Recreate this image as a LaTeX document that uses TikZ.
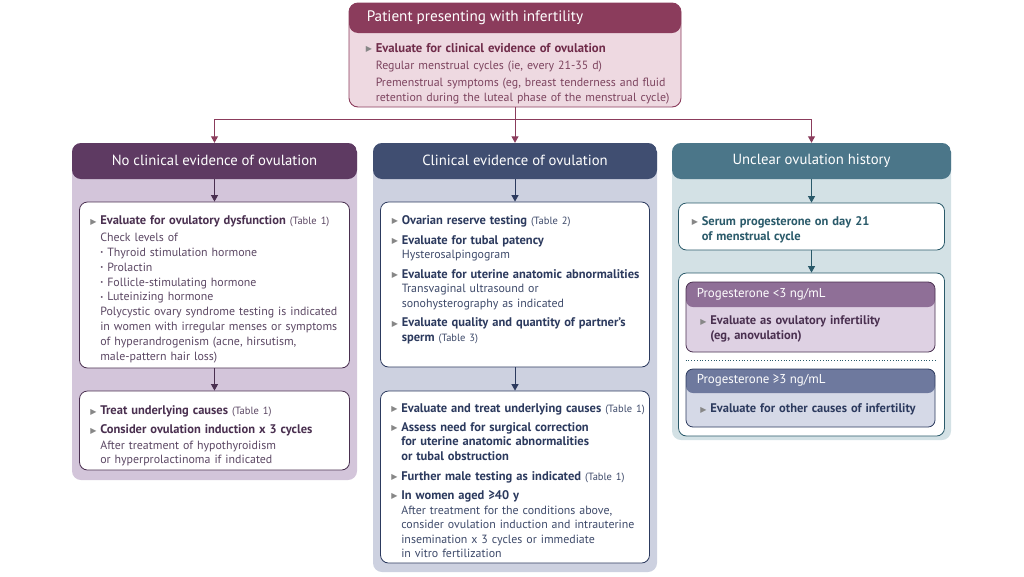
\documentclass[tikz,border=0pt]{standalone}
\usepackage{fontspec}
\setmainfont{PT Sans}
\newfontfamily\symfont{DejaVu Sans}
\usetikzlibrary{arrows.meta,positioning,calc}
\definecolor{topHead}{RGB}{139,60,92}
\definecolor{topBody}{RGB}{238,217,225}
\definecolor{topDark}{RGB}{112,44,74}
\definecolor{topText}{RGB}{125,68,95}
\definecolor{noHead}{RGB}{94,58,98}
\definecolor{noBody}{RGB}{211,197,218}
\definecolor{noDark}{RGB}{74,48,80}
\definecolor{noText}{RGB}{92,72,100}
\definecolor{yesHead}{RGB}{64,78,113}
\definecolor{yesBody}{RGB}{205,209,224}
\definecolor{yesDark}{RGB}{44,58,94}
\definecolor{yesText}{RGB}{62,74,106}
\definecolor{unHead}{RGB}{75,118,137}
\definecolor{unBody}{RGB}{211,225,229}
\definecolor{unDark}{RGB}{42,90,106}
\definecolor{lowHead}{RGB}{143,111,151}
\definecolor{lowBody}{RGB}{222,209,227}
\definecolor{highHead}{RGB}{110,121,158}
\definecolor{highBody}{RGB}{213,217,231}
\definecolor{triGray}{RGB}{135,135,135}
\newcommand{\tri}{{\symfont\fontsize{8}{8}\selectfont\color{triGray}\raisebox{0.5pt}{▶}}}
\newcommand{\itm}[1][0pt]{\par\vspace{#1}\leftskip=10pt\noindent\llap{\makebox[10pt][l]{\tri}}}
\newcommand{\sbul}{\makebox[7pt][l]{\raisebox{.25ex}{\scalebox{.55}{\textbullet}}}}
\newcommand{\tbl}[1]{{\fontsize{10.5}{12}\selectfont\mdseries(#1)}}
\newcommand{\hd}[1]{{\fontsize{12.5}{14.6}\selectfont\bfseries\color{hdcol}#1}}
\tikzstyle{panel}=[rectangle, rounded corners=9pt, inner sep=0pt]
\tikzstyle{card}=[rectangle, rounded corners=8pt, fill=white, line width=.8pt, inner sep=0pt]
\tikzstyle{body}=[inner sep=0pt, align=left, anchor=north west, text width=330pt, font=\fontsize{11.9}{14.6}\selectfont]
\tikzstyle{headtxt}=[text=white, inner sep=0pt, font=\fontsize{14.7}{17}\selectfont]
\tikzstyle{subtxt}=[text=white, inner sep=0pt, anchor=west, font=\fontsize{12.9}{15}\selectfont]
\tikzset{headed/.style n args={3}{fill=#1, path picture={\fill[#2] (path picture bounding box.north west) rectangle ([yshift=-#3]path picture bounding box.north east);}}}
\tikzset{flow/.style={-{Triangle[length=6.5pt,width=7pt]}, line width=1pt}}
\begin{document}
\begin{tikzpicture}[x=1pt,y=-1pt]
  \useasboundingbox (0,0) rectangle (1024,576);

  %% Patient box
  \draw (515,55) node[panel,headed={topBody}{topHead}{30pt},draw=topHead,line width=.9pt,minimum width=332pt,minimum height=104pt] (top) {};
  \node[headtxt,anchor=west,font=\fontsize{15.2}{17}\selectfont] (topHd) at ([xshift=18pt,yshift=-15pt]top.north west) {Patient presenting with infertility};
  \node[body,text=topText,font=\fontsize{11.9}{14.2}\selectfont] (topTxt) at ([xshift=17pt,yshift=-35.5pt]top.north west) {\colorlet{hdcol}{topDark}%
    \itm{\fontsize{12.7}{14.2}\selectfont\bfseries\color{topDark}Evaluate for clinical evidence of ovulation}\\[3pt]
    Regular menstrual cycles (ie, every 21-35 d)\\[3pt]
    Premenstrual symptoms (eg, breast tenderness and fluid\\
    retention during the luteal phase of the menstrual cycle)\par};

  %% Columns
  \draw (214.5,311.5) node[panel,headed={noBody}{noHead}{36pt},minimum width=285pt,minimum height=337pt] (colNo) {};
  \draw (515,357.5) node[panel,headed={yesBody}{yesHead}{36pt},minimum width=284pt,minimum height=429pt] (colYes) {};
  \draw (811.5,291.5) node[panel,headed={unBody}{unHead}{36pt},minimum width=279pt,minimum height=297pt] (colUn) {};
  \node[headtxt] (hdNo) at ([yshift=-18pt]colNo.north) {No clinical evidence of ovulation};
  \node[headtxt] (hdYes) at ([yshift=-18pt]colYes.north) {Clinical evidence of ovulation};
  \node[headtxt] (hdUn) at ([yshift=-18pt]colUn.north) {Unclear ovulation history};

  %% Split
  \coordinate (split) at ($(top.south)+(0,12)$);
  \draw[line width=1pt,topHead] (top.south) -- (split);
  \draw[flow,topHead] (split) -| (colNo.north);
  \draw[flow,topHead] (split) -- (colYes.north);
  \draw[flow,topHead] (split) -| (colUn.north);

  %% No clinical evidence
  \draw (214.5,285) node[card,draw=noDark,minimum width=270pt,minimum height=166pt] (evalNo) {};
  \draw (214.5,430.5) node[card,draw=noDark,minimum width=270pt,minimum height=79pt] (treatNo) {};
  \draw[flow,noDark] ([yshift=-36pt]colNo.north) -- (evalNo.north);
  \draw[flow,noDark] (evalNo.south) -- (treatNo.north);
  \node[body,text=noText,font=\fontsize{11.9}{14.85}\selectfont] (evalNoTxt) at ([xshift=11pt,yshift=-8pt]evalNo.north west) {\colorlet{hdcol}{noDark}%
    \itm\hd{Evaluate for ovulatory dysfunction} \tbl{Table 1}\\[2pt]
    Check levels of\\
    \sbul Thyroid stimulation hormone\\
    \sbul Prolactin\\
    \sbul Follicle-stimulating hormone\\
    \sbul Luteinizing hormone\\
    Polycystic ovary syndrome testing is indicated\\
    in women with irregular menses or symptoms\\
    of hyperandrogenism (acne, hirsutism,\\
    male-pattern hair loss)\par};
  \node[body,text=noText] (treatNoTxt) at ([xshift=11pt,yshift=-9.5pt]treatNo.north west) {\colorlet{hdcol}{noDark}%
    \itm\hd{Treat underlying causes} \tbl{Table 1}
    \itm[4pt]\hd{Consider ovulation induction x 3 cycles}\\[1pt]
    After treatment of hypothyroidism\\
    or hyperprolactinoma if indicated\par};

  %% Clinical evidence
  \draw (515,284.5) node[card,draw=yesDark,minimum width=269pt,minimum height=165pt] (evalYes) {};
  \draw (515,477) node[card,draw=yesDark,minimum width=269pt,minimum height=172pt] (treatYes) {};
  \draw[flow,yesDark] ([yshift=-36pt]colYes.north) -- (evalYes.north);
  \draw[flow,yesDark] (evalYes.south) -- (treatYes.north);
  \node[body,text=yesText] (evalYesTxt) at ([xshift=11.5pt,yshift=-8pt]evalYes.north west) {\colorlet{hdcol}{yesDark}%
    \itm\hd{Ovarian reserve testing} \tbl{Table 2}
    \itm[5pt]\hd{Evaluate for tubal patency}\\
    Hysterosalpingogram
    \itm[5pt]\hd{Evaluate for uterine anatomic abnormalities}\\
    Transvaginal ultrasound or\\
    sonohysterography as indicated
    \itm[4.5pt]\hd{Evaluate quality and quantity of partner’s}\\
    \hd{sperm} \tbl{Table 3}\par};
  \node[body,text=yesText] (treatYesTxt) at ([xshift=11pt,yshift=-7pt]treatYes.north west) {\colorlet{hdcol}{yesDark}%
    \itm\hd{Evaluate and treat underlying causes} \tbl{Table 1}
    \itm[4pt]\hd{Assess need for surgical correction\\ for uterine anatomic abnormalities\\ or tubal obstruction}
    \itm[5.5pt]\hd{Further male testing as indicated} \tbl{Table 1}
    \itm[4.5pt]\hd{In women aged ≥40 y}\\
    After treatment for the conditions above,\\
    consider ovulation induction and intrauterine\\
    insemination x 3 cycles or immediate\\
    in vitro fertilization\par};

  %% Unclear history
  \draw (811.5,226.5) node[card,draw=unDark,minimum width=266pt,minimum height=47pt] (serum) {};
  \draw (811.5,354.5) node[card,draw=unDark,minimum width=266pt,minimum height=163pt] (progBox) {};
  \draw[flow,unDark] ([yshift=-36pt]colUn.north) -- (serum.north);
  \draw[flow,unDark] (serum.south) -- (progBox.north);
  \node[body,text=unDark] (serumTxt) at ([xshift=13.5pt,yshift=-8pt]serum.north west) {\colorlet{hdcol}{unDark}%
    \itm\hd{Serum progesterone on day 21\\ of menstrual cycle}\par};

  \draw (810.5,317) node[panel,rounded corners=7pt,headed={lowBody}{lowHead}{25pt},draw=noDark,line width=.8pt,minimum width=249pt,minimum height=70pt] (low) {};
  \draw (810.5,398) node[panel,rounded corners=7pt,headed={highBody}{highHead}{24pt},draw=yesDark,line width=.8pt,minimum width=249pt,minimum height=58pt] (high) {};
  \draw[dotted,line width=.8pt,unDark] ($(low.south west)!.5!(high.north west)$) -- ($(low.south east)!.5!(high.north east)$);
  \node[subtxt] (lowHd) at ([xshift=11pt,yshift=-12.5pt]low.north west) {Progesterone <3 ng/mL};
  \node[subtxt] (highHd) at ([xshift=11pt,yshift=-12pt]high.north west) {Progesterone ≥3 ng/mL};
  \node[body,text=noDark] (lowTxt) at ([xshift=14.5pt,yshift=-28.5pt]low.north west) {\colorlet{hdcol}{noDark}%
    \itm\hd{Evaluate as ovulatory infertility\\ (eg, anovulation)}\par};
  \node[body,text=yesDark] (highTxt) at ([xshift=14.5pt,yshift=-29.5pt]high.north west) {\colorlet{hdcol}{yesDark}%
    \itm\hd{Evaluate for other causes of infertility}\par};
\end{tikzpicture}
\end{document}
